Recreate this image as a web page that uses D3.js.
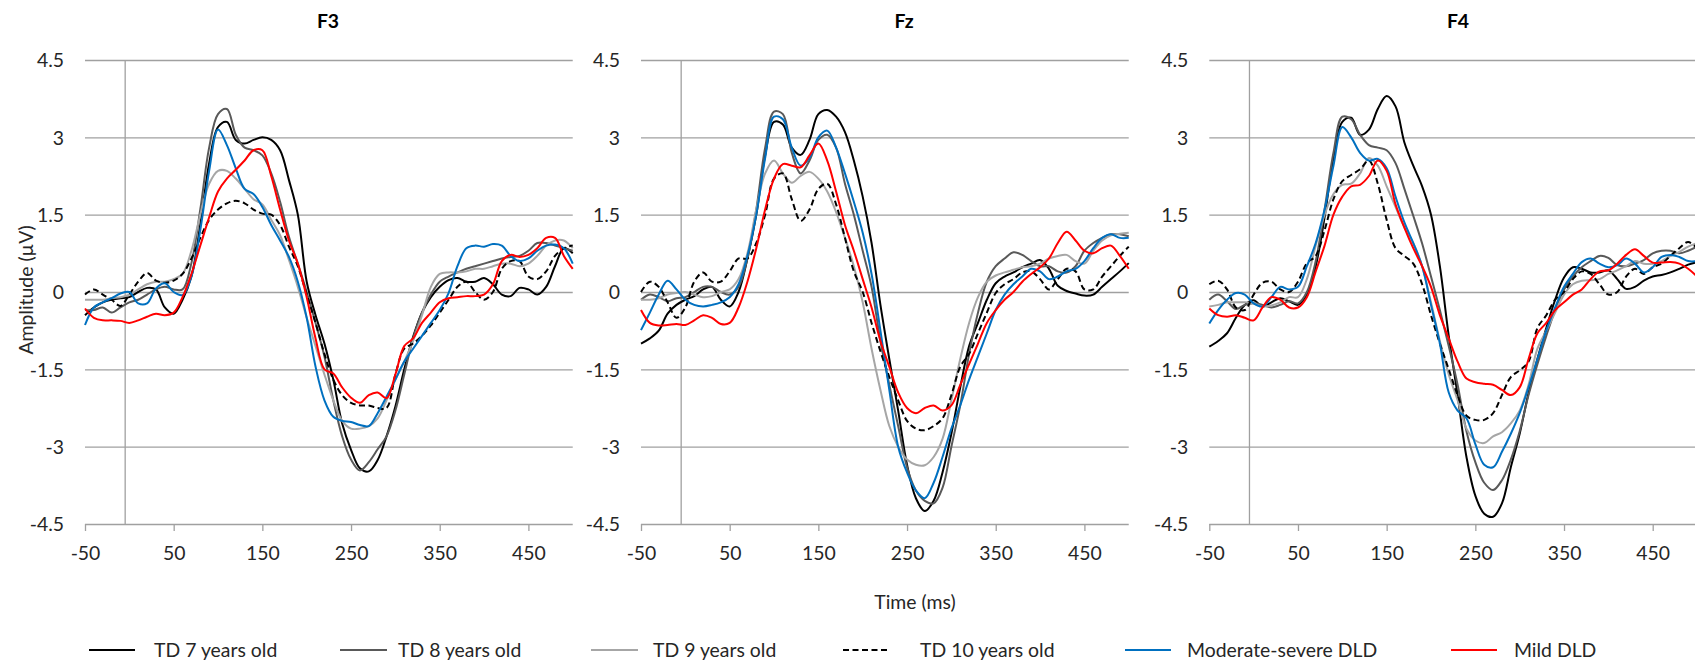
<!DOCTYPE html>
<html>
<head>
<meta charset="utf-8">
<script src="https://cdn.jsdelivr.net/npm/d3@7/dist/d3.min.js"></script>
<style>
  body { margin: 0; background: #fff; }
  text { font-family: Lato, "Open Sans", sans-serif; fill: #262626; }
</style>
</head>
<body>
<script>
var w = 1695;
var h = 664;

// ----- DATA -----
var times = [-50, -40, -30, -20, -10, 0, 10, 20, 30, 40,
  50, 60, 70, 80, 90, 100, 110, 120, 130, 140,
  150, 160, 170, 180, 190, 200, 210, 220, 230, 240,
  250, 260, 270, 280, 290, 300, 310, 320, 330, 340,
  350, 360, 370, 380, 390, 400, 410, 420, 430, 440,
  450, 460, 470, 480, 490, 500];

var yTicks = [4.5, 3, 1.5, 0, -1.5, -3, -4.5];
var xTicks = [-50, 50, 150, 250, 350, 450];
var panelNames = ["F3", "Fz", "F4"];
var seriesNames = ["TD 7 years old", "TD 8 years old", "TD 9 years old", "TD 10 years old", "Moderate-severe DLD", "Mild DLD"];

// F3
var f3Td7 = [-0.45, -0.3, -0.2, -0.15, -0.12, -0.1, 0.0, 0.08, 0.05, -0.3,
  -0.42, -0.15, 0.3, 1.3, 2.5, 3.2, 3.3, 2.95, 2.88, 2.95,
  3.0, 2.95, 2.75, 2.17, 1.5, 0.2, -0.45, -1.0, -1.7, -2.55,
  -3.06, -3.42, -3.48, -3.26, -2.8, -2.22, -1.5, -0.87, -0.4, -0.1,
  0.1, 0.23, 0.27, 0.2, 0.2, 0.27, 0.15, -0.05, -0.08, 0.08,
  0.05, -0.05, 0.1, 0.5, 0.85, 0.75];
var f3Td8 = [-0.35, -0.35, -0.3, -0.4, -0.3, -0.2, -0.15, -0.05, 0.05, 0.1,
  0.05, 0.05, 0.56, 1.6, 2.8, 3.45, 3.55, 3.05, 2.8, 2.75,
  2.65, 2.3, 1.75, 1.07, 0.55, 0.0, -0.6, -1.25, -2.1, -2.8,
  -3.25, -3.46, -3.3, -3.05, -2.8, -2.3, -1.6, -0.9, -0.4, -0.05,
  0.2, 0.3, 0.38, 0.45, 0.5, 0.55, 0.6, 0.65, 0.68, 0.7,
  0.8, 0.95, 0.95, 0.9, 0.85, 0.8];
var f3Td9 = [-0.15, -0.15, -0.15, -0.12, -0.1, -0.05, 0.05, 0.15, 0.2, 0.2,
  0.25, 0.35, 0.8, 1.5, 2.1, 2.35, 2.35, 2.2, 2.0, 1.8,
  1.7, 1.4, 1.1, 0.62, 0.1, -0.5, -1.05, -1.6, -2.1, -2.5,
  -2.65, -2.65, -2.6, -2.45, -2.1, -1.7, -1.35, -0.95, -0.45, 0.1,
  0.35, 0.38, 0.38, 0.4, 0.45, 0.45, 0.5, 0.55, 0.55, 0.5,
  0.55, 0.7, 0.9, 1.0, 1.0, 0.85];
var f3Td10 = [-0.05, 0.05, -0.05, -0.15, -0.27, -0.05, 0.2, 0.37, 0.22, 0.18,
  0.22, 0.35, 0.65, 1.05, 1.4, 1.6, 1.72, 1.77, 1.72, 1.6,
  1.52, 1.5, 1.3, 0.88, 0.5, -0.05, -0.6, -1.2, -1.7, -2.0,
  -2.15, -2.2, -2.2, -2.25, -2.25, -1.6, -1.1, -1.0, -0.85, -0.65,
  -0.4, -0.15, 0.1, 0.2, 0.0, -0.15, 0.0, 0.45, 0.6, 0.6,
  0.3, 0.25, 0.4, 0.7, 0.85, 0.9];
var f3Ms = [-0.64, -0.3, -0.2, -0.12, -0.03, 0.0, -0.22, -0.22, 0.07, 0.17,
  0.0, -0.06, 0.3, 1.2, 2.35, 3.15, 2.85, 2.4, 2.0, 1.9,
  1.65, 1.3, 1.0, 0.68, 0.2, -0.5, -1.45, -2.1, -2.42, -2.5,
  -2.52, -2.58, -2.6, -2.35, -2.03, -1.7, -1.35, -1.1, -0.85, -0.6,
  -0.35, -0.02, 0.5, 0.85, 0.9, 0.88, 0.93, 0.9, 0.7, 0.6,
  0.65, 0.8, 0.9, 0.92, 0.85, 0.55];
var f3Mild = [-0.32, -0.5, -0.55, -0.55, -0.56, -0.6, -0.55, -0.48, -0.42, -0.45,
  -0.4, -0.1, 0.35, 0.9, 1.45, 1.95, 2.2, 2.37, 2.55, 2.75,
  2.75, 2.25, 1.6, 1.0, 0.55, -0.1, -0.9, -1.5, -1.58, -1.85,
  -2.05, -2.15, -2.0, -1.95, -2.06, -1.6, -1.05, -0.9, -0.6, -0.4,
  -0.2, -0.12, -0.1, -0.08, -0.08, -0.05, 0.15, 0.6, 0.72, 0.68,
  0.72, 0.85, 1.05, 1.05, 0.7, 0.45];

// Fz
var fzTd7 = [-1.0, -0.9, -0.75, -0.42, -0.25, -0.15, -0.08, 0.05, 0.1, -0.15,
  -0.28, 0.0, 0.65, 1.5, 2.65, 3.3, 3.25, 2.8, 2.66, 2.95,
  3.45, 3.53, 3.4, 3.1, 2.55, 1.85, 0.95, -0.25, -1.3, -2.3,
  -3.35, -4.0, -4.25, -4.05, -3.5, -2.75, -1.85, -1.05, -0.6, -0.15,
  0.17, 0.3, 0.38, 0.48, 0.55, 0.62, 0.45, 0.12, 0.02, -0.03,
  -0.07, -0.05, 0.1, 0.25, 0.4, 0.56];
var fzTd8 = [-0.15, -0.05, -0.1, -0.18, -0.12, -0.1, 0.0, 0.1, 0.1, 0.0,
  -0.05, 0.1, 0.65, 1.6, 2.8, 3.5, 3.45, 2.7, 2.3, 2.55,
  2.95, 3.05, 2.8, 2.1, 1.5, 0.8, 0.1, -0.95, -1.8, -2.6,
  -3.4, -3.85, -4.05, -4.1, -3.8, -3.0, -2.2, -1.2, -0.4, 0.2,
  0.5, 0.65, 0.77, 0.72, 0.6, 0.5, 0.5, 0.4, 0.38, 0.5,
  0.8, 0.95, 1.05, 1.12, 1.12, 1.08];
var fzTd9 = [-0.15, -0.15, -0.12, -0.05, -0.02, 0.0, -0.05, -0.1, -0.08, 0.0,
  0.05, 0.25, 0.75, 1.6, 2.3, 2.55, 2.3, 2.12, 2.25, 2.33,
  2.2, 1.95, 1.55, 1.05, 0.5, -0.2, -1.1, -1.9, -2.6, -3.0,
  -3.25, -3.35, -3.36, -3.2, -2.85, -2.1, -1.3, -0.6, -0.1, 0.2,
  0.32, 0.38, 0.43, 0.48, 0.5, 0.55, 0.65, 0.7, 0.72, 0.6,
  0.55, 0.8, 1.0, 1.1, 1.13, 1.15];
var fzTd10 = [0.0, 0.2, 0.1, -0.2, -0.5, -0.3, 0.2, 0.38, 0.2, 0.2,
  0.4, 0.65, 0.65, 0.95, 1.5, 2.2, 2.3, 1.8, 1.38, 1.6,
  2.0, 2.1, 1.7, 1.05, 0.4, 0.0, -0.6, -1.15, -1.65, -2.1,
  -2.5, -2.65, -2.68, -2.6, -2.45, -2.0, -1.45, -1.2, -0.8, -0.4,
  -0.02, 0.15, 0.25, 0.38, 0.4, 0.25, 0.05, 0.25, 0.45, 0.4,
  0.05, 0.05, 0.3, 0.5, 0.7, 0.88];
var fzMs = [-0.74, -0.4, -0.05, 0.22, 0.05, -0.15, -0.25, -0.28, -0.25, -0.2,
  -0.1, 0.15, 0.7, 1.5, 2.6, 3.4, 3.35, 2.8, 2.45, 2.6,
  3.0, 3.13, 2.8, 2.3, 1.75, 1.15, 0.35, -0.75, -1.9, -3.0,
  -3.5, -3.85, -4.0, -3.7, -3.2, -2.65, -2.2, -1.7, -1.25, -0.8,
  -0.35, -0.05, 0.15, 0.3, 0.45, 0.4, 0.25, 0.3, 0.4, 0.45,
  0.6, 0.85, 1.05, 1.12, 1.05, 1.05];
var fzMild = [-0.35, -0.6, -0.65, -0.64, -0.62, -0.64, -0.55, -0.45, -0.5, -0.62,
  -0.6, -0.3, 0.2, 0.85, 1.6, 2.2, 2.48, 2.45, 2.42, 2.65,
  2.88, 2.55, 1.95, 1.3, 0.8, 0.25, -0.3, -0.95, -1.45, -1.95,
  -2.25, -2.35, -2.25, -2.2, -2.3, -2.2, -1.8, -1.4, -1.0, -0.6,
  -0.35, -0.15, 0.0, 0.2, 0.35, 0.48, 0.65, 0.95, 1.17, 1.0,
  0.8, 0.75, 0.85, 0.9, 0.7, 0.45];

// F4
var f4Td7 = [-1.06, -0.95, -0.8, -0.5, -0.25, -0.16, -0.28, -0.2, -0.12, -0.18,
  -0.25, -0.05, 0.5, 1.45, 2.6, 3.3, 3.38, 3.05, 3.15, 3.55,
  3.8, 3.6, 2.9, 2.45, 2.05, 1.5, 0.5, -0.85, -2.0, -3.2,
  -3.95, -4.3, -4.36, -4.1, -3.4, -2.75, -1.96, -1.3, -0.7, -0.15,
  0.28, 0.48, 0.45, 0.38, 0.38, 0.42, 0.25, 0.06, 0.1, 0.22,
  0.3, 0.33, 0.38, 0.45, 0.53, 0.58];
var f4Td8 = [-0.15, -0.05, -0.18, -0.33, -0.25, -0.22, -0.25, -0.3, -0.25, -0.18,
  -0.22, 0.0, 0.6, 1.6, 2.7, 3.4, 3.35, 3.05, 2.85, 2.8,
  2.75, 2.5, 2.0, 1.48, 0.94, 0.3, -0.35, -1.05, -1.8, -2.7,
  -3.3, -3.7, -3.84, -3.65, -3.25, -2.7, -2.0, -1.4, -0.85, -0.35,
  0.05, 0.3, 0.48, 0.6, 0.7, 0.66, 0.52, 0.5, 0.55, 0.62,
  0.75, 0.8, 0.8, 0.75, 0.8, 0.88];
var f4Td9 = [-0.28, -0.25, -0.2, -0.2, -0.2, -0.22, -0.28, -0.26, -0.2, -0.1,
  -0.1, 0.25, 0.9, 1.5, 1.9, 2.08, 2.1, 2.3, 2.6, 2.45,
  2.05, 1.65, 1.25, 0.95, 0.5, -0.2, -0.95, -1.6, -2.1, -2.65,
  -2.88, -2.93, -2.8, -2.72, -2.55, -2.3, -1.8, -1.1, -0.75, -0.4,
  -0.05, 0.15, 0.22, 0.23, 0.25, 0.35, 0.42, 0.5, 0.6, 0.55,
  0.55, 0.6, 0.7, 0.78, 0.88, 0.95];
var f4Td10 = [0.15, 0.22, 0.05, -0.3, -0.35, -0.05, 0.18, 0.2, 0.05, 0.0,
  0.2, 0.56, 0.7, 1.2, 1.8, 2.15, 2.27, 2.38, 2.55, 2.1,
  1.4, 0.85, 0.7, 0.55, 0.15, -0.45, -1.0, -1.5, -2.0, -2.4,
  -2.48, -2.48, -2.35, -2.0, -1.65, -1.52, -1.35, -0.7, -0.45, -0.15,
  0.0, 0.25, 0.4, 0.35, 0.15, -0.05, 0.0, 0.3, 0.45, 0.35,
  0.48, 0.55, 0.7, 0.85, 0.97, 0.85];
var f4Ms = [-0.61, -0.35, -0.15, -0.02, -0.05, -0.22, -0.28, -0.1, 0.1, 0.05,
  0.1, 0.5, 0.95, 1.6, 2.45, 3.2, 3.0, 2.7, 2.55, 2.58,
  2.4, 1.85, 1.35, 0.95, 0.5, -0.25, -1.0, -1.95, -2.3, -2.45,
  -2.95, -3.35, -3.4, -3.1, -2.75, -2.35, -1.85, -1.3, -0.75, -0.3,
  0.1, 0.35, 0.58, 0.65, 0.55, 0.48, 0.52, 0.65, 0.55, 0.38,
  0.48, 0.68, 0.72, 0.68, 0.6, 0.6];
var f4Mild = [-0.32, -0.45, -0.48, -0.45, -0.5, -0.55, -0.3, -0.1, -0.15, -0.3,
  -0.3, -0.1, 0.4, 0.9, 1.5, 1.85, 2.05, 2.08, 2.25, 2.55,
  2.35, 1.7, 1.25, 0.85, 0.5, 0.1, -0.45, -0.9, -1.35, -1.68,
  -1.75, -1.78, -1.8, -1.9, -2.0, -1.85, -1.3, -0.8, -0.6, -0.35,
  -0.2, -0.05, 0.05, 0.25, 0.4, 0.42, 0.55, 0.72, 0.83, 0.7,
  0.57, 0.57, 0.58, 0.55, 0.45, 0.3];

var panelSeries = [
  [f3Td7, f3Td8, f3Td9, f3Td10, f3Ms, f3Mild],
  [fzTd7, fzTd8, fzTd9, fzTd10, fzMs, fzMild],
  [f4Td7, f4Td8, f4Td9, f4Td10, f4Ms, f4Mild]
];

// ----- STYLE / LAYOUT -----
var seriesColors = ["#000000", "#595959", "#a6a6a6", "#000000", "#0070c0", "#ff0000"];
var seriesDash = [null, null, null, "6,3.5", null, null];
var gridColor = "#a0a0a0";
var fontSize = "19.4px";

var panelLeft = [85, 641, 1209.3];
var titleX = [328, 904, 1458];
var spanW = 443.4;          // pixels from -50 to 450 ms
var yTop = 60, yBottom = 524;
var axisCross = -4.7;       // where the vertical axis line sits (ms)

// legend layout: line start, line end, text start
var legLine1 = [89, 340, 591, 843, 1125, 1451];
var legLine2 = [135, 387, 638, 890, 1171, 1497];
var legText = [154, 398, 653, 920, 1187, 1514];
var legY = 650;

var svg = d3.select("body").append("svg")
  .attr("width", w)
  .attr("height", h)
  .style("display", "block")
  .style("background-color", "white");

var y = d3.scaleLinear().domain([-4.5, 4.5]).range([yBottom, yTop]);

var line = d3.line()
  .x(function(d) { return d.x; })
  .y(function(d) { return d.y; })
  .curve(d3.curveCatmullRom.alpha(0.5));

panelNames.forEach(function(name, i) {
  var x = d3.scaleLinear()
    .domain([-50, 450])
    .range([panelLeft[i], panelLeft[i] + spanW]);
  var plotW = x(500) - x(-50);

  var g = svg.append("g").attr("class", "panel");

  // GRIDLINES + Y LABELS
  var yAxis = g.append("g")
    .attr("transform", "translate(" + x(-50) + ",0)")
    .call(d3.axisLeft(y)
      .tickValues(yTicks)
      .tickSize(-plotW)
      .tickPadding(21)
      .tickFormat(function(d) { return String(d); }));
  yAxis.select(".domain").remove();
  yAxis.selectAll(".tick line")
    .attr("stroke", gridColor)
    .attr("stroke-width", 1.3);
  yAxis.selectAll(".tick text")
    .style("font-size", fontSize)
    .style("fill", "#262626")
    .attr("dy", "0.36em");

  // X AXIS TICKS + LABELS
  var xAxis = g.append("g")
    .attr("transform", "translate(0," + yBottom + ")")
    .call(d3.axisBottom(x)
      .tickValues(xTicks)
      .tickSize(7)
      .tickFormat(function(d) { return String(d); }));
  xAxis.select(".domain").remove();
  xAxis.selectAll(".tick line")
    .attr("stroke", gridColor)
    .attr("stroke-width", 1.3);
  xAxis.selectAll(".tick text")
    .attr("y", 29)
    .attr("dy", "0.36em")
    .style("font-size", fontSize)
    .style("fill", "#262626");

  // VERTICAL AXIS LINE
  g.append("line")
    .attr("x1", x(axisCross)).attr("x2", x(axisCross))
    .attr("y1", y(4.5)).attr("y2", y(-4.5))
    .attr("stroke", gridColor)
    .attr("stroke-width", 1.3);

  // TITLE
  g.append("text")
    .attr("x", titleX[i])
    .attr("y", 21)
    .attr("dy", "0.36em")
    .attr("text-anchor", "middle")
    .style("font-size", fontSize)
    .style("font-weight", "bold")
    .style("fill", "#000")
    .text(name);

  // CURVES
  panelSeries[i].forEach(function(vals, s) {
    var pts = vals.map(function(v, k) { return {x: x(times[k]), y: y(v)}; });
    g.append("path")
      .attr("d", line(pts))
      .attr("fill", "none")
      .attr("stroke", seriesColors[s])
      .attr("stroke-width", 2)
      .attr("stroke-dasharray", seriesDash[s]);
  });
});

// AXIS TITLES
svg.append("text")
  .attr("transform", "translate(26,290) rotate(-90)")
  .attr("text-anchor", "middle")
  .attr("dy", "0.36em")
  .style("font-size", fontSize)
  .text("Amplitude (\u00b5V)");

svg.append("text")
  .attr("x", 915)
  .attr("y", 602)
  .attr("dy", "0.36em")
  .attr("text-anchor", "middle")
  .style("font-size", fontSize)
  .text("Time (ms)");

// LEGEND
var leg = svg.append("g").attr("class", "legend");
seriesNames.forEach(function(name, s) {
  leg.append("line")
    .attr("x1", legLine1[s]).attr("x2", legLine2[s])
    .attr("y1", legY).attr("y2", legY)
    .attr("stroke", seriesColors[s])
    .attr("stroke-width", 2)
    .attr("stroke-dasharray", seriesDash[s]);
  leg.append("text")
    .attr("x", legText[s])
    .attr("y", legY)
    .attr("dy", "0.36em")
    .style("font-size", fontSize)
    .text(name);
});
</script>
</body>
</html>
